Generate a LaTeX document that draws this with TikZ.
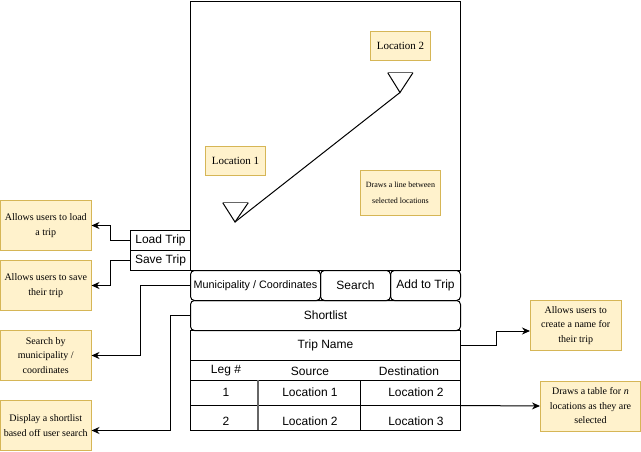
\documentclass[tikz,border=0pt]{standalone}
\usepackage{fontspec}
\setmainfont{Liberation Sans}
\newfontfamily\notefont{Liberation Serif}
\usetikzlibrary{arrows.meta}
\definecolor{notefill}{HTML}{FFF2CC}
\definecolor{notedraw}{HTML}{D6B656}
\definecolor{tgray}{HTML}{666666}
\tikzset{
  box/.style={draw=black, line width=1pt, inner sep=0pt, anchor=north west, align=center, font=\fontsize{12}{14}\selectfont},
  rbox/.style={box, rounded corners=4pt},
  note/.style={draw=notedraw, fill=notefill, line width=1pt, inner sep=1pt, anchor=north west, align=center, font=\notefont\fontsize{10}{14.5}\selectfont},
  cell/.style={inner sep=0pt, font=\fontsize{12}{14}\selectfont},
  arr/.style={draw=black, line width=1pt, -{Stealth[length=8pt,width=7pt]}},
  link/.style={draw=black, line width=1pt},
}
\begin{document}
\begin{tikzpicture}[x=1pt,y=-1pt]
\useasboundingbox (0,0) rectangle (641,452);
% main frame
\node[box, minimum width=270pt, minimum height=269pt] (frame) at (190,1) {};
% side buttons
\node[box, minimum width=60pt, minimum height=20pt] (load) at (130,230) {Load Trip};
\node[box, minimum width=60pt, minimum height=20pt] (save) at (130,250) {Save Trip};
% toolbar
\node[rbox, minimum width=130pt, minimum height=30pt, font=\fontsize{10.8}{12}\selectfont] (muni) at (190,270) {Municipality / Coordinates};
\node[rbox, minimum width=70pt, minimum height=30pt] (search) at (320,270) {Search};
\node[rbox, minimum width=70pt, minimum height=30pt] (add) at (390,270) {Add to Trip};
\node[rbox, minimum width=270pt, minimum height=30pt] (short) at (190,300) {Shortlist};
\node[box, minimum width=270pt, minimum height=30pt] (tripname) at (190,330) {Trip Name};
% table
\node[box, minimum width=270pt, minimum height=20pt] (head) at (190,360) {};
\node[box, minimum width=270pt, minimum height=50pt] (tbl) at (190,380) {};
\draw[link] (190,405) -- (460,405);
\draw[draw=tgray, line width=1.5pt] (258,380) -- (258,430);
\draw[link] (360,380) -- (360,430);
\node[cell] (hleg) at (226,371) {Leg \#};
\node[cell] (hsrc) at (310,371) {Source};
\node[cell] (hdst) at (409,371) {Destination};
\node[cell] (r1leg) at (226,392) {1};
\node[cell] (r1src) at (310,392) {Location 1};
\node[cell] (r1dst) at (416,392) {Location 2};
\node[cell] (r2leg) at (226,421) {2};
\node[cell] (r2src) at (310,421) {Location 2};
\node[cell] (r2dst) at (416,421) {Location 3};
% map content
\node[note, minimum width=60pt, minimum height=29pt, font=\notefont\fontsize{11}{13}\selectfont] (loc1) at (205,146) {Location 1};
\node[note, minimum width=60pt, minimum height=29pt, font=\notefont\fontsize{11}{13}\selectfont] (loc2) at (370,31) {Location 2};
\node[note, minimum width=80pt, minimum height=45pt, font=\notefont\fontsize{8}{16}\selectfont] (nline) at (360,170) {Draws a line between\\selected locations};
\coordinate (a1) at (235,222);
\coordinate (a2) at (400,92.5);
\draw[link] (222.7,202.7) -- (a1) -- (248.3,202.7);
\draw[draw=tgray, line width=1.5pt] (222.7,202.7) -- (248.3,202.7);
\draw[link] (387.7,72.7) -- (a2) -- (413,72.7);
\draw[draw=tgray, line width=1.5pt] (387.7,72.7) -- (413,72.7);
\draw[link] (a1) -- (a2);
% notes
\node[note, minimum width=90.5pt, minimum height=50pt] (nload) at (0,200) {Allows users to load\\a trip};
\node[note, minimum width=90.5pt, minimum height=50pt] (nsave) at (0,260) {Allows users to save\\their trip};
\node[note, minimum width=90.5pt, minimum height=50pt] (nsearch) at (0,330) {Search by\\municipality /\\coordinates};
\node[note, minimum width=90.5pt, minimum height=50pt] (nshort) at (0,400) {Display a shortlist\\based off user search};
\node[note, minimum width=90.5pt, minimum height=50pt] (nname) at (530,300) {Allows users to\\create a name for\\their trip};
\node[note, minimum width=100pt, minimum height=50pt] (ntable) at (540,380.5) {Draws a table for \textit{n}\\locations as they are\\selected};
% connectors
\draw[arr] (load.west) -- ++(-20,0) |- (nload.east);
\draw[arr] (save.west) -- ++(-20,0) |- (nsave.east);
\draw[arr] (muni.west) -- ++(-50,0) |- (nsearch.east);
\draw[arr] (short.west) -- ++(-20,0) |- ([yshift=-5pt]nshort.east);
\draw[arr] (tripname.east) -- ++(35,0) |- ([yshift=-5.5pt]nname.west);
\draw[arr] (tbl.east) -- (ntable.west);
\end{tikzpicture}
\end{document}
